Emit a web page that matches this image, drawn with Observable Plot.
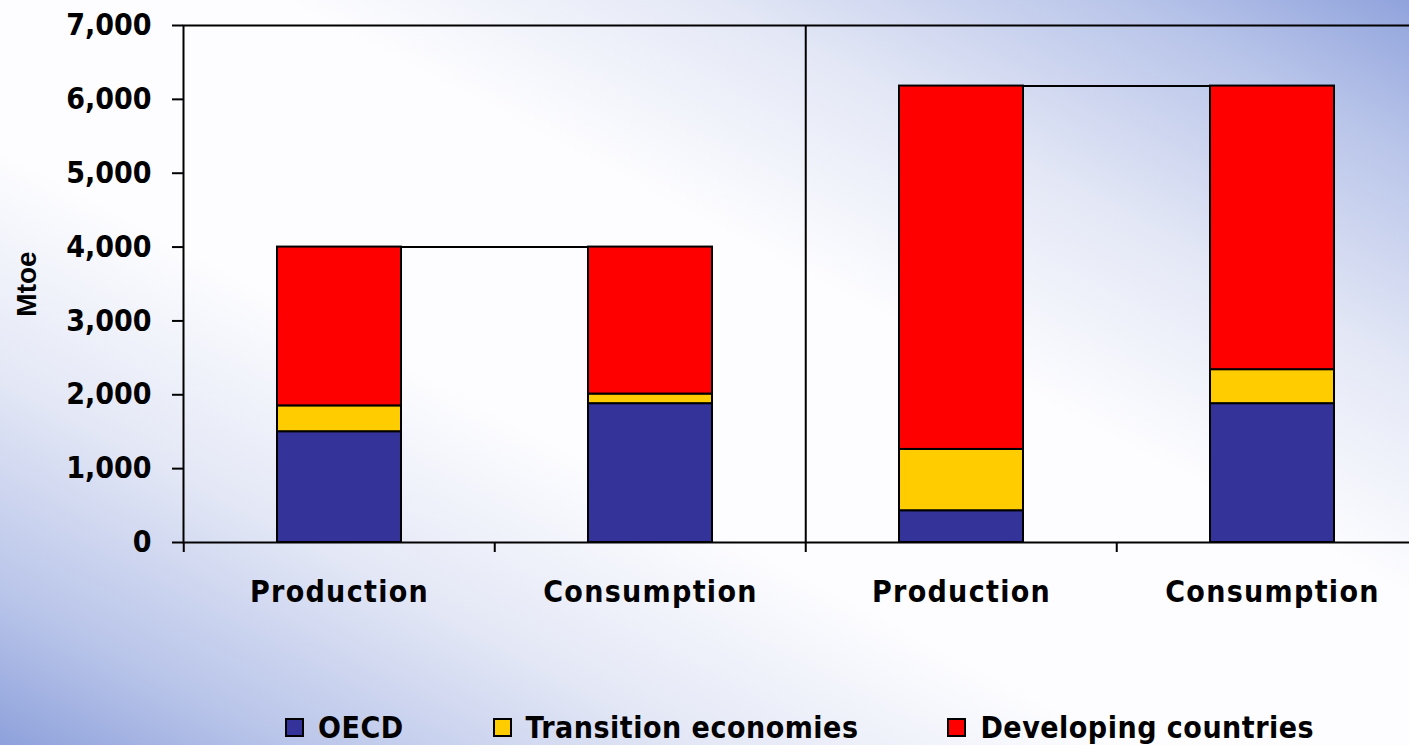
<!DOCTYPE html>
<html>
<head>
<meta charset="utf-8">
<script src="https://cdn.jsdelivr.net/npm/d3@7"></script>
<script src="https://cdn.jsdelivr.net/npm/@observablehq/plot@0.6"></script>
<style>
  html, body { margin: 0; padding: 0; }
  body {
    width: 1409px; height: 745px; overflow: hidden; position: relative;
    background: linear-gradient(to bottom left,
      #90a3dc 0%, #b8c4e9 10%, #e4e8f6 25%, #fdfdff 40%,
      #fdfdff 60%, #e4e8f6 75%, #b8c4e9 90%, #8ea1db 100%);
    font-family: "DejaVu Sans Condensed", "DejaVu Sans", sans-serif;
    font-stretch: condensed;
  }
  #chart svg { background: transparent !important; overflow: visible; }
  #chart svg text { font-weight: bold; fill: #000; font-stretch: condensed; }
  #chart svg [aria-label="y-axis tick label"] text { letter-spacing: 0; }
  #chart svg [aria-label="x-axis tick label"] text { letter-spacing: 1.3px; }
  #chart svg [aria-label="y-axis label"] text {
    font-family: "Liberation Sans", Arial, sans-serif !important; font-size: 28px !important;
    font-stretch: normal; letter-spacing: 0;
  }
  #legend {
    position: absolute; left: 285px; top: 710px;
    display: flex; align-items: center; white-space: nowrap; width: max-content;
    font-weight: bold; font-size: 30px; letter-spacing: 0.5px; color: #000;
  }
  #legend .item { display: flex; align-items: center; margin-right: 89px; }
  #legend .sw { width: 15px; height: 15px; border: 2px solid #000; margin-right: 14px; }
</style>
</head>
<body>
<div id="chart"></div>
<div id="legend"></div>
<script>
// ---- data ----
const groups = ["P1", "C1", "P2", "C2"];
const groupLabels = ["Production", "Consumption", "Production", "Consumption"];
const regions = ["OECD", "Transition economies", "Developing countries"];
const regionColors = ["#333399", "#FFCC00", "#FF0000"];
const oecd = [1500, 1880, 430, 1880];
const transition = [350, 130, 830, 460];
const developing = [2150, 1990, 4920, 3840];
const yTicks = [0, 1000, 2000, 3000, 4000, 5000, 6000, 7000];
const connectorPairs = [["P1", "C1"], ["P2", "C2"]];
const dividerAt = ["P2"];

// ---- derived tables ----
const series = [oecd, transition, developing];
const rows = [];
regions.forEach((r, ri) => groups.forEach((g, gi) => rows.push({group: g, region: r, value: series[ri][gi]})));
const totals = groups.map((g, gi) => series.reduce((s, arr) => s + arr[gi], 0));
const totalOf = g => totals[groups.indexOf(g)];
const links = connectorPairs.map(([a, b]) => ({a, b, y: totalOf(a)}));
const labelOf = g => groupLabels[groups.indexOf(g)];

const width = 1409, height = 650;
const marginLeft = 183, marginRight = -20;
const step = (width - marginLeft - marginRight) / groups.length;

const chart = Plot.plot({
  width, height,
  marginLeft, marginRight, marginTop: 25, marginBottom: height - 542,
  style: {fontFamily: '"DejaVu Sans Condensed", "DejaVu Sans", sans-serif', background: "transparent"},
  x: {type: "band", domain: groups, paddingInner: 0.6, paddingOuter: 0.3},
  y: {domain: [0, 7000]},
  color: {domain: regions, range: regionColors},
  marks: [
    Plot.frame({stroke: "#000", strokeWidth: 2}),
    Plot.ruleX(dividerAt, {x: d => d, y1: 0, y2: 7000, dx: -step / 2, stroke: "#000", strokeWidth: 2}),
    Plot.link(links, {x1: "a", x2: "b", y1: "y", y2: "y", stroke: "#000", strokeWidth: 2}),
    Plot.barY(rows, {x: "group", y: "value", fill: "region", stroke: "#000", strokeWidth: 2}),
    Plot.axisY({ticks: yTicks, tickFormat: d3.format(","), tickSize: 11, tickPadding: 21, fontSize: 30,
      strokeWidth: 2, label: "Mtoe", labelAnchor: "center", labelArrow: "none", labelOffset: 167}),
    Plot.axisX({tickSize: 10, tickFormat: () => "", dx: -step / 2, strokeWidth: 2, label: null}),
    Plot.axisX({tickSize: 0, tickPadding: 38, tickFormat: labelOf, fontSize: 30, label: null})
  ]
});
document.getElementById("chart").appendChild(chart);

// legend
const legend = document.getElementById("legend");
regions.forEach((r, i) => {
  const item = document.createElement("div");
  item.className = "item";
  const sw = document.createElement("div");
  sw.className = "sw";
  sw.style.background = regionColors[i];
  const t = document.createElement("span");
  t.textContent = r;
  item.appendChild(sw); item.appendChild(t);
  legend.appendChild(item);
});
</script>
</body>
</html>
